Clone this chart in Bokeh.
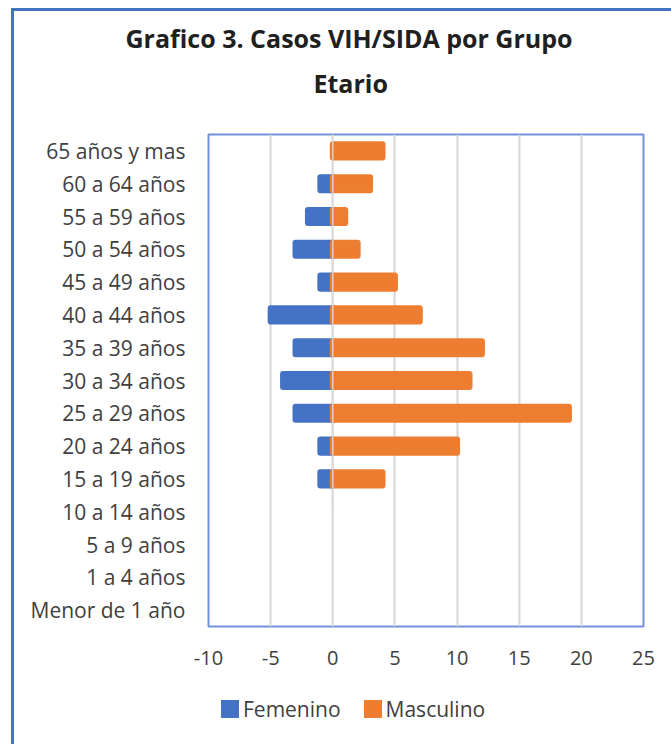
from bokeh.plotting import figure
from bokeh.layouts import column
from bokeh.models import (ColumnDataSource, FactorRange, Range1d, FixedTicker, Span,
                          Legend, LegendItem, Title)
from bokeh.embed import file_html
from bokeh.resources import INLINE

# ---- data (bottom to top) ----
categories = ["Menor de 1 año", "1 a 4 años", "5 a 9 años", "10 a 14 años",
              "15 a 19 años", "20 a 24 años", "25 a 29 años", "30 a 34 años",
              "35 a 39 años", "40 a 44 años", "45 a 49 años", "50 a 54 años",
              "55 a 59 años", "60 a 64 años", "65 años y mas"]
femenino = [0, 0, 0, 0, -1, -1, -3, -4, -3, -5, -1, -3, -2, -1, 0]
masculino = [0, 0, 0, 0, 4, 10, 19, 11, 12, 7, 5, 2, 1, 3, 4]
x_ticks = [-10, -5, 0, 5, 10, 15, 20, 25]
title_lines = ["Grafico 3. Casos VIH/SIDA por Grupo", "Etario"]
series_names = ["Femenino", "Masculino"]
colors = ["#4472C4", "#ED7D31"]

FONT = "Open Sans"
TXT = "#404040"
W, H, LEG_H = 671, 744, 60

frame_css = {
    "background-color": "white",
    "background-image": "linear-gradient(#4472C4, #4472C4), linear-gradient(#4472C4, #4472C4)",
    "background-size": "3px 100%, 100% 3px",
    "background-position": "11px 8px, 11px 8px",
    "background-repeat": "no-repeat",
}

p = figure(width=W, height=H - LEG_H, output_backend="svg", toolbar_location=None,
           y_range=FactorRange(factors=categories, range_padding=0),
           x_range=Range1d(x_ticks[0], x_ticks[-1]),
           min_border_left=208, min_border_right=28, min_border_top=134,
           min_border_bottom=H - LEG_H - 626, border_fill_color=None)

p.outline_line_color = "#7092DA"
p.outline_line_width = 2

def src(vals):
    d = {"y": [c for c, v in zip(categories, vals) if v != 0],
         "v": [v for v in vals if v != 0]}
    return ColumnDataSource(d)

bar_style = dict(height=0.4, line_width=6, line_join="round")
p.hbar(y="y", right="v", left=0, source=src(femenino),
       fill_color=colors[0], line_color=colors[0], **bar_style)
p.hbar(y="y", right="v", left=0, source=src(masculino),
       fill_color=colors[1], line_color=colors[1], **bar_style)

p.add_layout(Span(location=0, dimension="height", line_color="#D9D9D9",
                  line_width=1.5, line_alpha=0.9))

# axes
p.xaxis.ticker = FixedTicker(ticks=x_ticks)
p.xaxis.major_label_overrides = {t: str(t) for t in x_ticks}
p.xgrid.ticker = FixedTicker(ticks=x_ticks)
p.xgrid.grid_line_color = "#D6D6D6"
p.xgrid.grid_line_width = 2
p.ygrid.grid_line_color = None
for ax in (p.xaxis[0], p.yaxis[0]):
    ax.axis_line_color = None
    ax.major_tick_line_color = None
    ax.minor_tick_line_color = None
    ax.major_label_text_font = FONT
    ax.major_label_text_color = TXT
p.xaxis.major_label_text_font_size = "20px"
p.xaxis.major_label_standoff = 18
p.yaxis.major_label_text_font_size = "21px"
p.yaxis.major_label_standoff = 17

# spacer between frame and title, then two title lines centred on the chart
p.add_layout(Title(text=" ", text_font_size="2px", standoff=22), "above")
for txt, off, so in [(title_lines[1], 105, 18), (title_lines[0], -83, 0)]:
    p.add_layout(Title(text=txt, align="left", offset=off, text_font=FONT,
                       text_font_size="25px", text_font_style="bold",
                       text_color="#202020", standoff=so), "above")

# legend strip (separate svg figure under the chart; its frame aligns with the chart's)
lg = figure(width=W, height=LEG_H, output_backend="svg", toolbar_location=None,
            x_axis_type=None, y_axis_type=None, min_border=0,
            border_fill_color=None, background_fill_color=None,
            outline_line_color=None, x_range=Range1d(0, 1), y_range=Range1d(0, 1))
lg.grid.visible = False
items = []
for name, col in zip(series_names, colors):
    # legend-only renderer (hidden), styled like the bars
    r = lg.hbar(y=[0.5], right=[1], left=0, fill_color=col, line_color=col,
                visible=False, **bar_style)
    items.append(LegendItem(label=name, renderers=[r]))
legend = Legend(items=items, orientation="horizontal", location=(13, 21),
                glyph_width=18, glyph_height=18, label_standoff=4, spacing=23,
                padding=0, margin=0, border_line_color=None, background_fill_alpha=0,
                inactive_fill_alpha=0,
                label_text_font=FONT, label_text_font_size="21px", label_text_color=TXT)
lg.add_layout(legend)

layout = column(p, lg, spacing=0, styles=frame_css)
open("out.html", "w").write(file_html(layout, INLINE))
